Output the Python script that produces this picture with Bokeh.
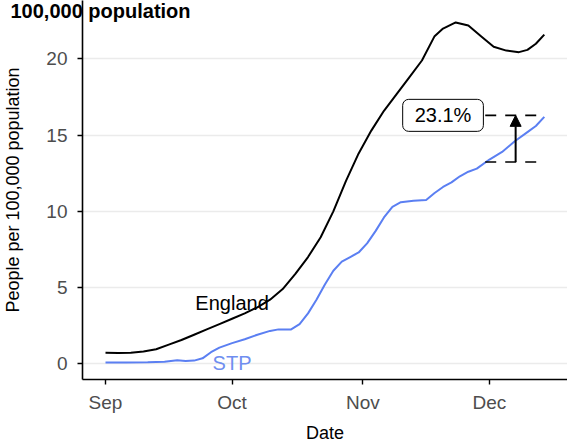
import pandas as pd
from bokeh.plotting import figure
from bokeh.models import (Range1d, FixedTicker, DatetimeTickFormatter, Label,
                          Arrow, NormalHead, ColumnDataSource)
from bokeh.embed import file_html
from bokeh.resources import INLINE

# ---------------- data ----------------
england_dates = ["2020-09-01", "2020-09-04", "2020-09-07", "2020-09-10", "2020-09-13",
                 "2020-09-16", "2020-09-19", "2020-09-22", "2020-09-25", "2020-09-28",
                 "2020-10-01", "2020-10-04", "2020-10-07", "2020-10-10", "2020-10-13",
                 "2020-10-16", "2020-10-19", "2020-10-22", "2020-10-25", "2020-10-28",
                 "2020-10-31", "2020-11-03", "2020-11-06", "2020-11-09", "2020-11-12",
                 "2020-11-15", "2020-11-18", "2020-11-20", "2020-11-23", "2020-11-26",
                 "2020-11-29", "2020-12-02", "2020-12-05", "2020-12-08", "2020-12-10",
                 "2020-12-12", "2020-12-14"]
england_values = [0.72, 0.70, 0.72, 0.80, 0.95,
                  1.25, 1.55, 1.90, 2.25, 2.60,
                  2.95, 3.30, 3.70, 4.20, 4.90,
                  5.90, 7.00, 8.30, 10.00, 12.00,
                  13.80, 15.30, 16.60, 17.70, 18.80,
                  19.90, 21.50, 22.00, 22.40, 22.20,
                  21.50, 20.80, 20.55, 20.45, 20.60,
                  21.00, 21.60]

stp_dates = ["2020-09-01", "2020-09-06", "2020-09-11", "2020-09-15", "2020-09-18",
             "2020-09-20", "2020-09-22", "2020-09-24", "2020-09-26", "2020-09-28",
             "2020-10-01", "2020-10-04", "2020-10-07", "2020-10-10", "2020-10-12",
             "2020-10-15", "2020-10-17", "2020-10-19", "2020-10-21", "2020-10-23",
             "2020-10-25", "2020-10-27", "2020-10-29", "2020-10-31", "2020-11-02",
             "2020-11-04", "2020-11-06", "2020-11-08", "2020-11-10", "2020-11-13",
             "2020-11-16", "2020-11-18", "2020-11-20", "2020-11-22", "2020-11-24",
             "2020-11-26", "2020-11-28", "2020-12-01", "2020-12-04", "2020-12-07",
             "2020-12-10", "2020-12-12", "2020-12-14"]
stp_values = [0.07, 0.08, 0.10, 0.12, 0.22,
              0.18, 0.20, 0.35, 0.75, 1.05,
              1.35, 1.60, 1.90, 2.15, 2.25,
              2.25, 2.60, 3.30, 4.20, 5.20,
              6.10, 6.70, 7.00, 7.30, 7.90,
              8.70, 9.60, 10.30, 10.60, 10.70,
              10.75, 11.20, 11.60, 11.90, 12.30,
              12.60, 12.80, 13.40, 13.90, 14.60,
              15.20, 15.60, 16.20]

month_ticks = ["2020-09-01", "2020-10-01", "2020-11-01", "2020-12-01"]
y_ticks = [0, 5, 10, 15, 20]

series_names = ["England", "STP"]
series_label_dates = ["2020-10-01", "2020-10-01"]
series_label_values = [3.97, 0.07]

change_text = "23.1%"
change_upper = 16.3
change_lower = 13.24
change_line_from = "2020-11-30"
change_line_to = "2020-12-12 10:00"
change_arrow_at = "2020-12-07 05:00"
change_label_at = "2020-11-20"

title_text = "100,000 population"

# ---------------- helpers ----------------
def ms(s):
    return pd.Timestamp(s).value / 1e6

DAY = 86400000.0
FONT = "Liberation Sans"
STP_COLOR = "#5b7ff2"

eng_src = ColumnDataSource(dict(x=pd.to_datetime(england_dates), y=england_values))
stp_src = ColumnDataSource(dict(x=pd.to_datetime(stp_dates), y=stp_values))

x0 = ms("2020-09-01")
p = figure(width=567, height=445, output_backend="svg", toolbar_location=None,
           x_axis_type="datetime",
           x_range=Range1d(x0 - 5.45 * DAY, x0 + 109.5 * DAY),
           y_range=Range1d(-1.04, 23.84),
           min_border_left=82, min_border_right=0, min_border_top=0,
           min_border_bottom=63)
p.outline_line_color = None
p.background_fill_color = "white"
p.border_fill_color = "white"

# title (sits over the top of the plot, like the cropped original)
p.title.text = title_text
p.title.align = "left"
p.title.offset = -72
p.title.standoff = -42
p.title.text_font = FONT
p.title.text_font_size = "20px"
p.title.text_font_style = "bold"
p.title.text_color = "black"

# grid
p.xgrid.grid_line_color = None
p.ygrid.grid_line_color = "#ebebeb"
p.ygrid.grid_line_width = 1.5
p.ygrid.ticker = FixedTicker(ticks=y_ticks)

# axes
p.xaxis.ticker = FixedTicker(ticks=[ms(d) for d in month_ticks])
p.xaxis.formatter = DatetimeTickFormatter(months="%b", days="%b", hours="%b")
p.yaxis.ticker = FixedTicker(ticks=y_ticks)
for ax in (p.xaxis[0], p.yaxis[0]):
    ax.axis_line_color = "black"
    ax.axis_line_width = 1.6
    ax.major_tick_line_color = "black"
    ax.major_tick_line_width = 1.4
    ax.major_tick_out = 5
    ax.major_tick_in = 0
    ax.minor_tick_line_color = None
    ax.major_label_text_font = FONT
    ax.major_label_text_font_size = "19px"
    ax.major_label_text_color = "#4d4d4d"
    ax.axis_label_text_font = FONT
    ax.axis_label_text_font_size = "18px"
    ax.axis_label_text_font_style = "normal"
    ax.axis_label_text_color = "black"

p.xaxis.axis_label = "Date"
p.xaxis.major_label_standoff = 7
p.xaxis.axis_label_standoff = 7
p.yaxis.axis_label = "People per 100,000 population"
p.yaxis.major_label_standoff = 10
p.yaxis.axis_label_standoff = 20

# lines
p.line("x", "y", source=eng_src, line_color="black", line_width=2)
p.line("x", "y", source=stp_src, line_color=STP_COLOR, line_width=2)

# series labels
for name, d, v, c in zip(series_names, series_label_dates, series_label_values,
                         ["black", "#6f8ef0"]):
    p.add_layout(Label(x=ms(d), y=v, text=name, text_align="center",
                       text_baseline="middle", text_font=FONT,
                       text_font_size="20px", text_color=c))

# change annotation: dashed reference lines
for yv in (change_upper, change_lower):
    p.line([pd.Timestamp(change_line_from), pd.Timestamp(change_line_to)], [yv, yv],
           line_color="black", line_width=1.6, line_dash="11 9")

p.add_layout(Arrow(end=NormalHead(size=11, fill_color="black", line_color="black"),
                   x_start=ms(change_arrow_at), y_start=change_lower,
                   x_end=ms(change_arrow_at), y_end=change_upper,
                   line_color="black", line_width=2))

p.add_layout(Label(x=ms(change_label_at), y=change_upper, text=change_text,
                   text_align="center", text_baseline="middle",
                   text_font=FONT, text_font_size="20px", text_color="black",
                   background_fill_color="white", border_line_color="black",
                   border_line_width=1, border_radius=6,
                   padding=dict(left=12, right=12, top=5, bottom=5)))

open("out.html", "w").write(file_html(p, INLINE))
